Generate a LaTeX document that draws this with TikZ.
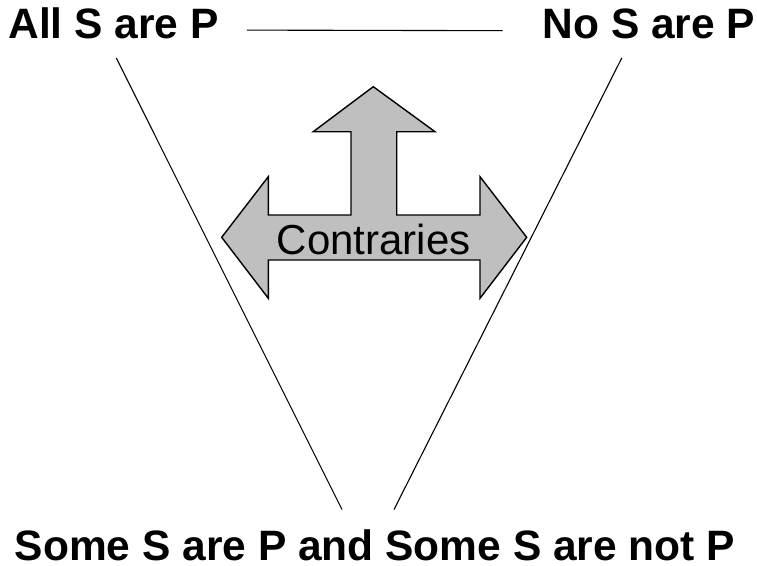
\documentclass[tikz,border=0pt]{standalone}
\usepackage{fontspec}
\setmainfont{Liberation Sans}
\usepackage{tikz}
\usetikzlibrary{calc,positioning}

\begin{document}
\begin{tikzpicture}[x=1pt,y=-1pt,
    label/.style={font=\fontsize{42.5}{50}\selectfont\bfseries,inner sep=0pt},
    edge/.style={black,line width=1.1pt},
    bigarrow/.style={fill=black!25,draw=black,line width=1.4pt,line join=miter}]
  \useasboundingbox (0,0) rectangle (757,565);

  \node[label,anchor=base west] (all) at (8.3,38.3) {All S are P};
  \node[label,anchor=base east] (no) at (755.5,38.3) {No S are P};
  \node[label,anchor=base] (some) at (375,560.5) {Some S are P and Some S are not P};

  % contraries arrow
  \draw[bigarrow] (221.7,237.3) -- (268.3,176.7) -- (268.3,215) -- (351,215)
    -- (351,131.7) -- (313.3,131.7) -- (373.3,86.7) -- (435,131.7)
    -- (396.7,131.7) -- (396.7,215) -- (480,215) -- (480,176.7)
    -- (526.7,237.3) -- (480,298.3) -- (480,260) -- (268.3,260)
    -- (268.3,298.3) -- cycle;
  \node[inner sep=0pt,font=\fontsize{42}{50}\selectfont,anchor=base] (contr) at (373.7,254) {Contraries};

  \draw[edge] ($(all.east)+(28,7)$) -- ($(no.west)+(-40,7)$);
  \draw[edge] ($(all.south)+(2.6,19)$) -- ($(some.north)+(-33,-20)$);
  \draw[edge] ($(no.south)+(-27.2,19)$) -- ($(some.north)+(19,-20)$);
\end{tikzpicture}
\end{document}
